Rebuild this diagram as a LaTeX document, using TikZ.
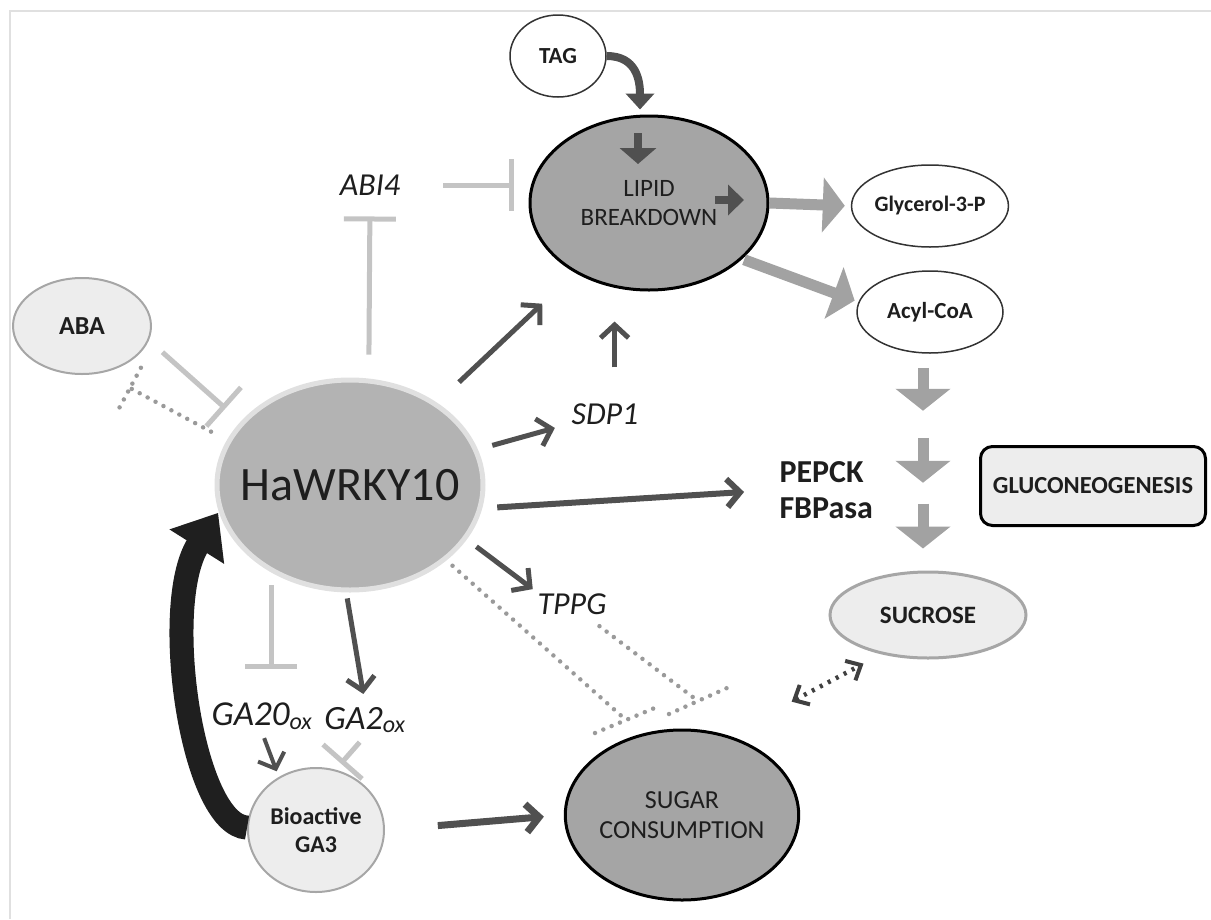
\documentclass[tikz,border=0pt]{standalone}
\usepackage{fontspec}
\setmainfont{Carlito}
\usetikzlibrary{arrows.meta,shapes.geometric,calc}

\definecolor{ink}{HTML}{1E1E1E}
\definecolor{actc}{HTML}{505050}
\definecolor{inhc}{HTML}{C4C4C4}
\definecolor{fatc}{HTML}{A2A2A2}
\definecolor{dotc}{HTML}{9A9A9A}
\definecolor{pale}{HTML}{EDEDED}
\definecolor{midfill}{HTML}{B3B3B3}
\definecolor{darkfill}{HTML}{A5A5A5}

\newcommand{\fsz}[1]{\fontsize{#1}{#1}\selectfont}

\begin{document}
\begin{tikzpicture}[x=1pt, y=-1pt, text=ink,
  oval/.style={ellipse, inner sep=0pt, align=center},
  act/.style={draw=actc, line width=5pt, -{Straight Barb[length=13pt,width=28pt]}},
  inh/.style={draw=inhc, line width=5pt, -{Bar[width=52pt]}},
  fat/.style={draw=fatc, line width=11pt, -{Triangle[length=22pt,width=54pt]}},
  dots/.style={draw=dotc, line width=4.5pt, line cap=round, dash pattern=on 0pt off 9pt},
  lbl/.style={font=\fsz{32}\itshape, inner sep=3pt}]

\useasboundingbox (0,0) rectangle (1211,919);
\draw[black!12, line width=1.5pt] (10,919) -- (10,11) -- (1211,11);

\node[oval, fill=midfill, draw=black!12, line width=5pt, minimum width=266pt, minimum height=210pt, font=\fsz{48}] (hw) at (350,485) {\makebox[140pt]{HaWRKY10}};
\node[oval, fill=darkfill, draw=black, line width=3pt, minimum width=238pt, minimum height=174pt, font=\fsz{25}] (lipid) at (649,203) {LIPID\\[4pt]BREAKDOWN};
\node[oval, fill=white, draw=black!80, line width=1.5pt, minimum width=96pt, minimum height=82pt, font=\fsz{23}\bfseries] (tag) at (558,56) {TAG};
\node[oval, fill=white, draw=black!80, line width=1.5pt, minimum width=154pt, minimum height=82pt, font=\fsz{22}\bfseries] (gly) at (930,206) {Glycerol-3-P};
\node[oval, fill=white, draw=black!80, line width=1.5pt, minimum width=146pt, minimum height=82pt, font=\fsz{23}\bfseries] (acyl) at (930,312) {Acyl-CoA};
\node[anchor=west, align=left, font=\fsz{32}\bfseries] (enz) at (776,490) {PEPCK\\[4pt]FBPasa};
\node[draw=black, line width=3pt, rounded corners=12pt, fill=pale, minimum width=225pt, minimum height=79pt, font=\fsz{24.5}\bfseries] (gluco) at (1093,486) {GLUCONEOGENESIS};
\node[oval, fill=pale, draw=black!35, line width=3pt, minimum width=196pt, minimum height=86pt, font=\fsz{25}\bfseries] (suc) at (928,615) {SUCROSE};
\node[oval, fill=darkfill, draw=black, line width=3pt, minimum width=220pt, minimum height=170pt, font=\fsz{26}] (sugar) at (682,815) {SUGAR\\[4pt]CONSUMPTION};
\node[oval, fill=pale, draw=black!35, line width=2pt, minimum width=136pt, minimum height=124pt, font=\fsz{24}\bfseries] (ga3) at (316,830) {Bioactive\\[4pt]GA3};
\node[oval, fill=pale, draw=black!35, line width=2pt, minimum width=138pt, minimum height=96pt, font=\fsz{26}\bfseries] (aba) at (82,326) {ABA};

\node[lbl] (abi) at (370,185) {ABI4};
\node[lbl] (sdp) at (605,414) {SDP1};
\node[lbl] (tppg) at (572,604) {TPPG};
\node[lbl, font=\fsz{35}\itshape] (ga20) at (262,716) {GA20\textsubscript{\fsz{24}ox}};
\node[lbl, font=\fsz{34}\itshape] (ga2) at (365,720) {GA2\textsubscript{\fsz{24}ox}};

\draw[actc, line width=8pt, -{Triangle[length=16pt,width=28pt]}] (tag.east) to[out=0, in=90, looseness=1.2] ([xshift=-9pt,yshift=5pt]lipid.north);
\draw[actc, line width=8pt, -{Triangle[length=16pt,width=36pt]}] ($(lipid)+(-11,-70)$) -- ++(0,31);
\draw[actc, line width=8pt, -{Triangle[length=16pt,width=30pt]}] ($(lipid)+(66,-3)$) -- ++(29,0);

\draw[fat, shorten >=6pt] (lipid.east) -- (gly.west);
\draw[fat, shorten <=2pt, shorten >=4pt] (lipid.-31) -- (acyl.172);
\draw[fat] ([xshift=-7pt,yshift=-14pt]acyl.south) -- ++(0,43);
\draw[fat] ([xshift=-7pt,yshift=-84pt]acyl.south) -- ++(0,45);
\draw[fat] ([xshift=-5pt,yshift=67pt]suc.north) -- ++(0,45);

\draw[inh, shorten <=24pt, shorten >=18pt] (hw.80) -- (abi.south);
\draw[inh, shorten <=40pt, shorten >=15pt] (abi.east) -- (lipid.west |- abi.east);
\draw[inh, shorten <=18pt, shorten >=20pt] (aba.-12) -- (hw.150);

\coordinate (abaBar) at (130,388);
\draw[dots, shorten <=18pt] (hw.160) -- (abaBar);
\draw[dots] ($(abaBar)!23pt!90:(hw.160)$) -- ($(abaBar)!23pt!-90:(hw.160)$);

\draw[act, shorten <=30pt, shorten >=45pt] (hw) -- (lipid);
\draw[act, shorten <=33pt, shorten >=30pt] (sdp.55) -- (sdp.55 |- lipid.south);
\draw[act, shorten <=15pt, shorten >=14pt] (hw) -- (sdp);
\draw[act, line width=6pt, shorten <=15pt, shorten >=32pt] (hw.-10) -- (enz.west);
\draw[act, shorten <=12pt, shorten >=2pt] (hw.-25) -- (tppg.160);

\coordinate (sugBarA) at (626,720);
\coordinate (sugBarB) at (698,701);
\draw[dots, shorten <=8pt] (hw.-38) -- (sugBarA);
\draw[dots] ($(sugBarA)+(-31,13)$) -- ($(sugBarA)+(31,-13)$);
\draw[dots, shorten <=14pt, shorten >=4pt] (tppg.-40) -- (sugBarB);
\draw[dots] ($(sugBarB)+(-29,13)$) -- ($(sugBarB)+(29,-13)$);

\draw[inh, shorten <=13pt, shorten >=31pt] (hw.-132) -- (hw.-132 |- ga20.north);
\draw[act, shorten <=6pt, shorten >=10pt] (hw.-92) -- (ga2.north);
\draw[act, line width=4pt, shorten <=6pt, shorten >=6pt] (ga20.south) -- (ga3.125);
\draw[inh, shorten <=8pt, shorten >=8pt] (ga2.south) -- (ga3.72);
\draw[act, line width=7pt, shorten <=53pt, shorten >=20pt] (ga3.east) -- (sugar.west);

\draw[black!88, line width=24pt, -{Triangle[length=40pt,width=62pt]}] (ga3.178) .. controls (192,825) and (160,605) .. ([xshift=-1pt]hw.192);

\draw[black!75, line width=4.5pt, dash pattern=on 3pt off 6pt, {Straight Barb[length=12pt,width=22pt,line width=4pt]}-{Straight Barb[length=12pt,width=22pt,line width=4pt]}, shorten <=72pt, shorten >=20pt] (sugar.60) -- (suc.220);
\end{tikzpicture}
\end{document}
